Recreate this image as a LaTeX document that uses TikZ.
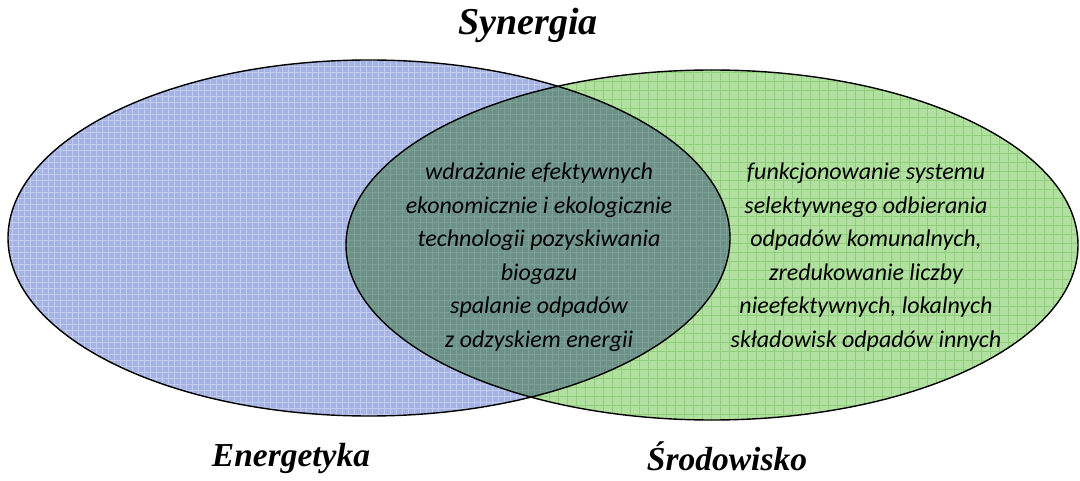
\documentclass[tikz,border=0pt]{standalone}
\usepackage{fontspec}
\setmainfont{Liberation Serif}
\newfontfamily\carlito{Carlito}
\usepackage{xcolor}
\definecolor{enefill}{RGB}{165,178,228}
\definecolor{srofill}{RGB}{178,224,160}
\definecolor{synfill}{RGB}{108,146,136}
\definecolor{srogrid}{RGB}{120,196,100}
\begin{document}
\begin{tikzpicture}[x=1pt,y=1pt,yscale=-1,xscale=1,
    tytul/.style={font=\fontsize{38}{42}\selectfont\bfseries\itshape, inner sep=0.75pt},
    podpis/.style={font=\fontsize{33.5}{38}\selectfont\bfseries\itshape, inner sep=0.75pt},
    opis/.style={font=\carlito\fontsize{24}{33.5}\selectfont\itshape, align=center, inner sep=0.75pt}]
    \useasboundingbox (0,0) rectangle (1080,481);

    %Shape: Ellipse [Energetyka]
    \fill[enefill] (369,238) ellipse (361 and 178);
    \begin{scope}
        \clip (369,238) ellipse (361 and 178);
        \draw[white, opacity=0.35, line width=0.8, step=6] (0,50) grid (740,430);
    \end{scope}
    %Shape: Ellipse [Srodowisko]
    \fill[srofill] (712,245) ellipse (366 and 175);
    \begin{scope}
        \clip (712,245) ellipse (366 and 175);
        \draw[srogrid, opacity=0.6, line width=0.6, step=9] (340,60) grid (1080,430);
    \end{scope}
    %Shape: Overlap [Synergia]
    \begin{scope}
        \clip (369,238) ellipse (361 and 178);
        \fill[synfill] (712,245) ellipse (366 and 175);
        \clip (712,245) ellipse (366 and 175);
        \draw[white, opacity=0.12, line width=0.6, step=6] (340,60) grid (740,430);
    \end{scope}
    %Outlines
    \draw[line width=1.4] (369,238) ellipse (361 and 178);
    \draw[line width=1.4] (712,245) ellipse (366 and 175);

    % Text Node
    \node[tytul] (synergia) at (528,25) {Synergia};
    % Text Node
    \node[podpis] (energetyka) at (291,458) {Energetyka};
    % Text Node
    \node[podpis] (srodowisko) at (727,456) {Środowisko};
    % Text Node
    \node[opis] (wspolne) at (539,257) {wdrażanie efektywnych\\ekonomicznie i ekologicznie\\technologii pozyskiwania\\biogazu\\spalanie odpadów\\z odzyskiem energii};
    % Text Node
    \node[opis] (srodowiskowe) at (866,257) {funkcjonowanie systemu\\selektywnego odbierania\\odpadów komunalnych,\\zredukowanie liczby\\nieefektywnych, lokalnych\\składowisk odpadów innych};
\end{tikzpicture}
\end{document}
